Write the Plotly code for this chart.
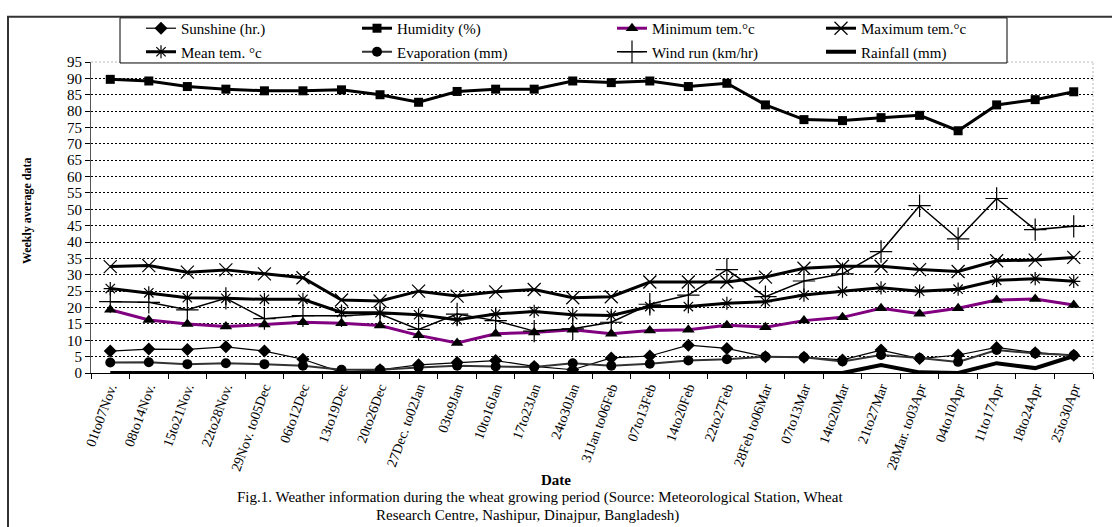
import plotly.graph_objects as go

dates = ["01to07Nov.", "08to14Nov.", "15to21Nov.", "22to28Nov.", "29Nov. to05Dec",
         "06to12Dec", "13to19Dec", "20to26Dec", "27Dec. to02Jan", "03to9Jan",
         "10to16Jan", "17to23Jan", "24to30Jan", "31Jan to06Feb", "07to13Feb",
         "14to20Feb", "22to27Feb", "28Feb to06Mar", "07to13Mar", "14to20Mar",
         "21to27Mar", "28Mar. to03Apr", "04to10Apr", "11to17Apr", "18to24Apr", "25to30Apr"]

sunshine = [6.7, 7.3, 7.2, 8.0, 6.7, 4.2, 0.2, 1.0, 2.5, 3.2, 3.8, 2.0, 1.0, 4.6,
            5.2, 8.5, 7.5, 5.0, 4.8, 4.0, 7.0, 4.4, 5.5, 7.8, 6.2, 5.4]
humidity = [89.7, 89.2, 87.5, 86.7, 86.2, 86.2, 86.5, 85.0, 82.7, 86.0, 86.7, 86.7, 89.2,
            88.7, 89.2, 87.5, 88.5, 81.9, 77.4, 77.1, 78.0, 78.7, 74.0, 81.9, 83.5, 85.9]
min_temp = [19.3, 16.2, 15.0, 14.2, 14.8, 15.5, 15.2, 14.5, 11.5, 9.2, 12.0, 12.4, 13.2,
            12.0, 13.0, 13.2, 14.6, 14.0, 16.0, 17.0, 19.8, 18.1, 19.8, 22.3, 22.6, 20.8]
max_temp = [32.5, 32.8, 30.8, 31.5, 30.3, 29.1, 22.3, 22.0, 25.0, 23.5, 24.8, 25.5, 23.0,
            23.3, 27.8, 27.8, 27.8, 29.3, 32.0, 32.6, 32.6, 31.6, 31.0, 34.3, 34.5, 35.3]
mean_temp = [25.8, 24.5, 23.0, 22.8, 22.5, 22.5, 18.5, 18.4, 17.8, 16.3, 18.0, 18.8, 17.8,
             17.6, 20.3, 20.3, 21.3, 21.8, 23.8, 25.0, 26.0, 25.0, 25.6, 28.3, 28.8, 28.0]
evaporation = [3.2, 3.3, 2.7, 3.0, 2.7, 2.2, 1.0, 1.0, 1.7, 2.2, 2.0, 1.8, 3.0,
               2.2, 2.8, 3.8, 4.2, 5.0, 4.8, 3.5, 5.5, 4.6, 3.4, 7.0, 6.0, 5.4]
wind_run = [21.8, 21.6, 19.3, 22.8, 16.6, 17.5, 17.5, 18.0, 13.3, 18.0, 16.0, 12.8, 13.5,
            15.5, 21.0, 23.8, 31.6, 23.3, 28.1, 30.3, 37.1, 51.1, 41.0, 53.3, 43.8, 44.8]
rainfall = [0, 0, 0, 0, 0, 0, 0, 0, 0, 0, 0, 0, 0, 0, 0, 0, 0, 0, 0, 0,
            2.4, 0.2, 0, 3.0, 1.5, 5.2]

yticks = list(range(0, 100, 5))

SERIF = "Liberation Serif"
W, H = 1112, 527
L, R, T, B = 91, 19, 56, 154
pw, ph = W - L - R, H - T - B


def px(x):
    return (x - L) / pw


def py(y):
    return 1 + (T - y) / ph


fig = go.Figure()


def add(name, y, color, width, symbol, msize, mline, legend, lw):
    mode = "lines+markers" if symbol else "lines"
    marker = dict(symbol=symbol, size=msize, color="black",
                  line=dict(color="black", width=mline)) if symbol else None
    fig.add_trace(go.Scatter(x=dates, y=y, name=name, mode=mode,
                             line=dict(color=color, width=width),
                             marker=marker, legend=legend, legendwidth=lw))


# row 1 of the legend
add("Sunshine (hr.)", sunshine, "black", 1.2, "diamond", 10, 0, "legend", 171)
add("Humidity (%)", humidity, "black", 3, "square", 9, 0, "legend", 210)
add("Minimum tem.°c", min_temp, "#800080", 3, "triangle-up", 11, 0, "legend", 164)
add("Maximum tem.°c", max_temp, "black", 3, "x-thin-open", 13, 1.2, "legend", 140)
# row 2 of the legend
add("Mean tem. °c", mean_temp, "black", 3, "asterisk-open", 11, 1.2, "legend2", 171)
add("Evaporation (mm)", evaporation, "#333333", 2, "circle", 10, 0, "legend2", 210)
add("Wind run (km/hr)", wind_run, "black", 1.5, "cross-thin-open", 16, 1.2, "legend2", 164)
add("Rainfall (mm)", rainfall, "black", 4, None, 0, 0, "legend2", 140)

leg_common = dict(orientation="h", xanchor="left", yanchor="top",
                  borderwidth=0, bgcolor="rgba(0,0,0,0)",
                  font=dict(family=SERIF, size=15, color="black"),
                  itemwidth=30, tracegroupgap=0)

fig.update_layout(
    width=W, height=H,
    margin=dict(l=L, r=R, t=T, b=B),
    paper_bgcolor="white", plot_bgcolor="white",
    font=dict(family=SERIF, color="black", size=13),
    showlegend=True,
    legend=dict(x=px(141), y=py(5), **leg_common),
    legend2=dict(x=px(141), y=py(29), **leg_common),
    xaxis=dict(type="category", range=[-0.5, len(dates) - 0.5], showgrid=False,
               showline=True, linecolor="black", linewidth=1,
               ticks="outside", ticklen=5, tickcolor="black", tickson="boundaries",
               tickangle=-70, tickfont=dict(family=SERIF, size=14, color="black"),
               zeroline=False),
    yaxis=dict(range=[0, 95], tickvals=yticks, showgrid=True, gridcolor="black",
               griddash="2px,2px", gridwidth=1,
               showline=True, linecolor="#555555", linewidth=1,
               ticks="outside", ticklen=5, tickcolor="black",
               tickfont=dict(family=SERIF, size=15, color="black"), zeroline=False),
    shapes=[
        dict(type="line", xref="paper", yref="paper", x0=0, x1=1, y0=1, y1=1,
             line=dict(color="#bbbbbb", width=1, dash="2px,2px"), layer="below"),
        dict(type="line", xref="paper", yref="paper", x0=1, x1=1, y0=0, y1=1,
             line=dict(color="#bbbbbb", width=1, dash="2px,2px"), layer="below"),
        # outer frame (left and top edges)
        dict(type="path", xref="paper", yref="paper",
             path=f"M {px(8)},{py(540)} L {px(8)},{py(10)} L {px(1130)},{py(10)}",
             line=dict(color="#333333", width=2)),
        # legend box
        dict(type="rect", xref="paper", yref="paper",
             x0=px(120), x1=px(1007), y0=py(57), y1=py(11),
             line=dict(color="black", width=1), fillcolor="white", layer="above"),
    ],
    annotations=[
        dict(text="<b>Weekly average data</b>", xref="paper", yref="paper",
             x=px(27), y=py(208), xanchor="center", yanchor="middle",
             textangle=-90, showarrow=False,
             font=dict(family=SERIF, size=12, color="black")),
        dict(text="<b>Date</b>", xref="paper", yref="paper",
             x=px(556), y=py(482), xanchor="center", yanchor="middle", showarrow=False,
             font=dict(family=SERIF, size=15, color="black")),
        dict(text="Fig.1. Weather information during the wheat growing period (Source: Meteorological Station, Wheat",
             xref="paper", yref="paper", x=px(540), y=py(500), xanchor="center",
             yanchor="middle", showarrow=False,
             font=dict(family=SERIF, size=15, color="black")),
        dict(text="Research Centre, Nashipur, Dinajpur, Bangladesh)",
             xref="paper", yref="paper", x=px(527), y=py(518), xanchor="center",
             yanchor="middle", showarrow=False,
             font=dict(family=SERIF, size=15, color="black")),
    ],
)

fig.write_html("out.html", config={"displayModeBar": False},
               post_script="document.body.style.margin='0px';document.body.style.overflow='hidden';")
